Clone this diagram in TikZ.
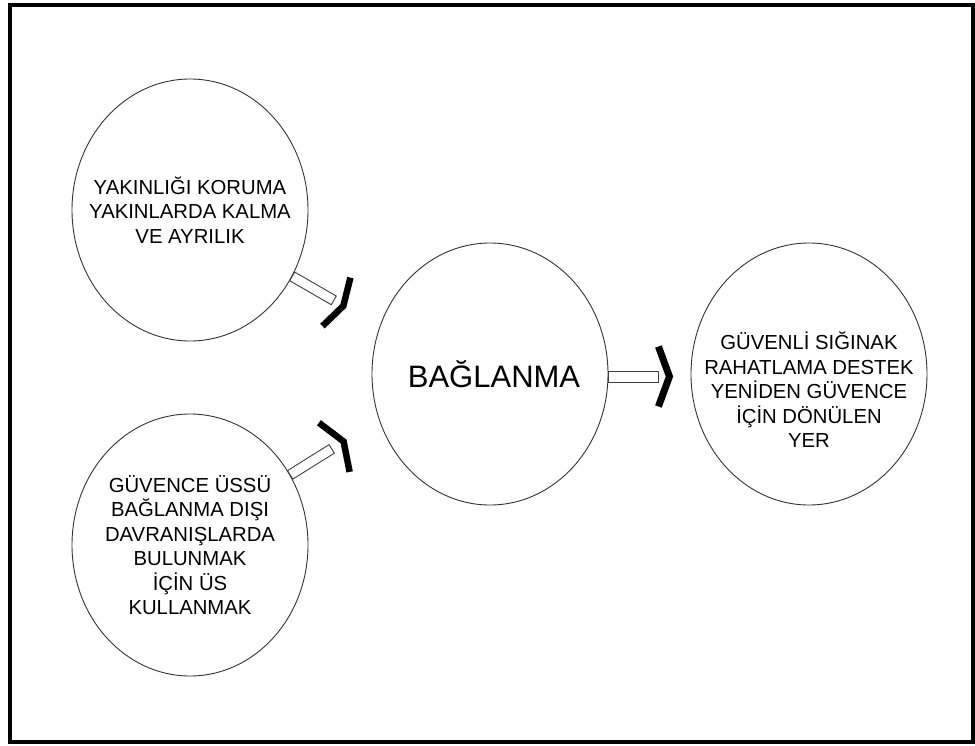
\documentclass[tikz,border=0pt]{standalone}
\usepackage{fontspec}
\setmainfont{Liberation Sans}
\usetikzlibrary{shapes.geometric,calc}
\begin{document}
\begin{tikzpicture}[x=1pt,y=-1pt,
  bubble/.style={ellipse, draw=black!80, line width=0.9pt, minimum width=236pt, minimum height=262pt, inner sep=0pt},
  txt/.style={align=center, font=\fontsize{20.3pt}{24.5pt}\selectfont, text=black, inner sep=0pt},
  shaft/.style={draw=black!75, line width=0.9pt, fill=white},
  chev/.style={line width=6.5pt, line join=miter, line cap=butt, draw=black}]
\useasboundingbox (0,0) rectangle (975,745);
\draw[line width=4pt] (10,5) rectangle (973,742);

\node[bubble] (tl) at (190,210) {};
\node[bubble] (bl) at (190,545) {};
\node[bubble] (c) at (490,374) {};
\node[bubble] (r) at (809,374) {};

\node[txt] (tlt) at (tl.center) {YAKINLIĞI KORUMA\\YAKINLARDA KALMA\\VE AYRILIK};
\node[txt] (blt) at ($(bl.center)+(0,0)$) {GÜVENCE ÜSSÜ\\BAĞLANMA DIŞI\\DAVRANIŞLARDA\\BULUNMAK\\İÇİN ÜS\\KULLANMAK};
\node[txt, font=\fontsize{31pt}{36pt}\selectfont] (ct) at ($(c.center)+(4,0)$) {BAĞLANMA};
\node[txt] (rt) at ($(r.center)+(0,16)$) {GÜVENLİ SIĞINAK\\RAHATLAMA DESTEK\\YENİDEN GÜVENCE\\İÇİN DÖNÜLEN\\YER};

% top-left -> centre
\begin{scope}[shift={(tl.-33)}, rotate=-30]
  \draw[shaft] (0,-5) rectangle (48,5);
  \draw[chev] (51,-28) -- (59,0) -- (51,28);
\end{scope}
% bottom-left -> centre
\begin{scope}[shift={(bl.35)}, rotate=32]
  \draw[shaft] (0,-5) rectangle (49,5);
  \draw[chev] (52,-29) -- (63,0) -- (52,29);
\end{scope}
% centre -> right
\begin{scope}[shift={($(c.east)+(0,2.5)$)}]
  \draw[shaft] (0,-5.5) rectangle (50,5.5);
  \draw[chev, line width=7pt] (50,-30) -- (61,0) -- (50,30);
\end{scope}
\end{tikzpicture}
\end{document}
